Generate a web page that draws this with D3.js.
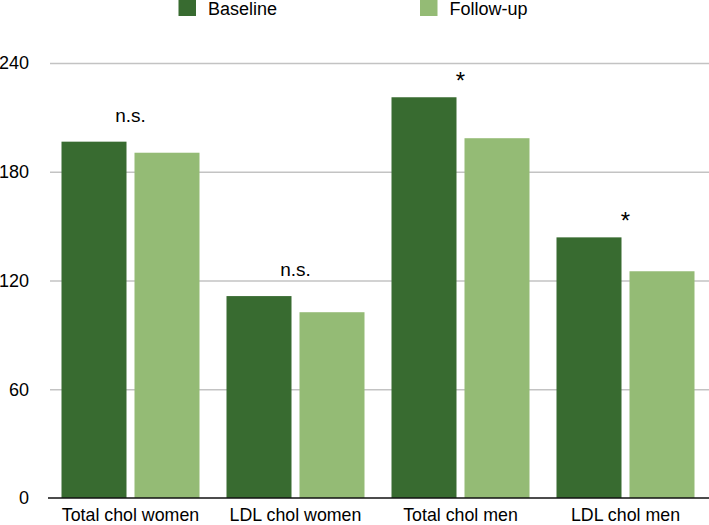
<!DOCTYPE html>
<html>
<head>
<meta charset="utf-8">
<script src="https://cdn.jsdelivr.net/npm/d3@7"></script>
<style>
  html, body { margin: 0; padding: 0; background: #fff; }
  svg { display: block; font-family: "Liberation Sans", Arial, Helvetica, sans-serif; }
</style>
</head>
<body>
<svg id="chart" width="709" height="525"></svg>
<script>
const categories = ["Total chol women", "LDL chol women", "Total chol men", "LDL chol men"];
const seriesNames = ["Baseline", "Follow-up"];
const baseline = [196.6, 111.4, 221.1, 143.8];
const followUp = [190.5, 102.5, 198.5, 125.1];
const annotations = ["n.s.", "n.s.", "*", "*"];
const yTicks = [0, 60, 120, 180, 240];
const colors = ["#386b30", "#94bb75"];

const svg = d3.select("#chart");
const W = 709, H = 525;
const x0 = 48, x1 = 708, yBase = 498, yTop = 63;
const FONT = "'Liberation Sans', Arial, Helvetica, sans-serif";

const x = d3.scaleBand().domain(categories).range([x0, x1])
  .paddingInner(27 / 165).paddingOuter(13.5 / 165);
const xs = d3.scaleBand().domain(seriesNames).range([0, x.bandwidth()])
  .paddingInner(8 / 73).paddingOuter(0);
const y = d3.scaleLinear().domain([0, 240]).range([yBase, yTop]);
const color = d3.scaleOrdinal().domain(seriesNames).range(colors);

// gridlines + y tick labels
const yAxis = d3.axisLeft(y).tickValues(yTicks).tickSize(-(W - 50)).tickPadding(21).tickFormat(d3.format("d"));
const gy = svg.append("g").attr("transform", "translate(50,0)").call(yAxis);
gy.select(".domain").remove();
gy.selectAll(".tick line").attr("stroke", "#c3c3c3").attr("stroke-width", 1.5)
  .attr("display", d => d === 0 ? "none" : null);
gy.selectAll(".tick text").attr("fill", "#000").attr("font-size", 18)
  .attr("font-family", FONT);

// bars
const rows = categories.map((c, i) => ({ cat: c, vals: [baseline[i], followUp[i]] }));
const groups = svg.append("g").selectAll("g").data(rows).join("g")
  .attr("transform", d => `translate(${x(d.cat)},0)`);
groups.selectAll("rect").data(d => d.vals.map((v, j) => ({ s: seriesNames[j], v })))
  .join("rect")
  .attr("x", d => xs(d.s))
  .attr("y", d => y(d.v))
  .attr("width", xs.bandwidth())
  .attr("height", d => y(0) - y(d.v))
  .attr("fill", d => color(d.s));

// annotations
groups.append("text")
  .attr("x", x.bandwidth() / 2)
  .attr("y", (d, i) => y(d3.max(d.vals)) - (annotations[i] === "*" ? 8 : 20))
  .attr("text-anchor", "middle")
  .attr("font-size", (d, i) => annotations[i] === "*" ? 24 : 19)
  .attr("fill", "#000")
  .text((d, i) => annotations[i]);

// x axis (zero line + labels)
const xAxis = d3.axisBottom(x).tickSize(0).tickPadding(14);
const gx = svg.append("g").attr("transform", `translate(0,${yBase})`).call(xAxis);
gx.select(".domain").attr("d", `M${x0},0H${W}`).attr("stroke", "#111").attr("stroke-width", 1.5);
gx.selectAll(".tick text").attr("font-size", 17.8).attr("fill", "#000")
  .attr("font-family", FONT)
  .attr("dy", null).attr("y", 23);

// legend
const legendX = [178.5, 420];
const legend = svg.append("g").selectAll("g").data(seriesNames).join("g")
  .attr("transform", (d, i) => `translate(${legendX[i]},0)`);
legend.append("rect").attr("x", 0).attr("y", 0).attr("width", 17.5).attr("height", 16)
  .attr("fill", d => color(d));
legend.append("text").attr("x", 29.5).attr("y", 14.5).attr("font-size", 18).attr("fill", "#000")
  .text(d => d);
</script>
</body>
</html>
